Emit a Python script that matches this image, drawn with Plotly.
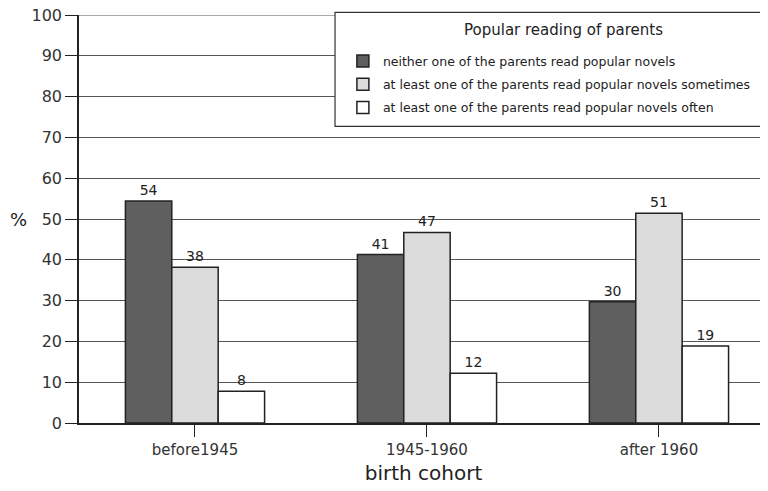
import plotly.graph_objects as go

categories = ["before1945", "1945-1960", "after 1960"]
neither = [54.4, 41.3, 29.7]
sometimes = [38.2, 46.7, 51.4]
often = [7.8, 12.2, 18.9]
series_names = [
    "neither one of the parents read popular novels",
    "at least one of the parents read popular novels sometimes",
    "at least one of the parents read popular novels often",
]
series_colors = ["#5f5f5f", "#dcdcdc", "#ffffff"]
y_ticks = [0, 10, 20, 30, 40, 50, 60, 70, 80, 90, 100]
legend_title = "Popular reading of parents"

FONT = "DejaVu Sans"
fig = go.Figure()
for i, (name, vals, col) in enumerate(zip(series_names, [neither, sometimes, often], series_colors)):
    fig.add_trace(go.Bar(
        x=categories, y=vals, name=name, legendgroup=f"g{i}",
        marker=dict(color=col, line=dict(color="#222222", width=1.5)),
        text=[f"{v:.0f}" for v in vals], textposition="outside",
        textfont=dict(family=FONT, size=14, color="#222222"),
        cliponaxis=False,
    ))

# page body has an 8px margin: figure sized so the plot area fills to the window edge
fig.update_layout(
    width=760, height=483,
    margin=dict(l=71, r=0, t=7, b=68, autoexpand=False),
    paper_bgcolor="white", plot_bgcolor="white",
    barmode="group", bargap=0.4, bargroupgap=0,
    font=dict(family=FONT, color="#222222"),
    showlegend=True,
    legend=dict(
        x=0.383, y=0.923, xanchor="left", yanchor="top",
        bgcolor="rgba(0,0,0,0)", borderwidth=0,
        font=dict(family=FONT, size=12.5, color="#222222"),
        traceorder="grouped", tracegroupgap=4,
    ),
    xaxis=dict(
        range=[-0.5, 2.47], showline=True, linecolor="#222222", linewidth=1.5,
        ticks="outside", ticklen=12, tickcolor="#222222", automargin=False,
        tickfont=dict(family=FONT, size=15, color="#333333"),
        title=dict(text="birth cohort", font=dict(family=FONT, size=20, color="#222222"), standoff=8),
        showgrid=False,
    ),
    yaxis=dict(
        range=[0, 100], tickvals=y_ticks, showline=True, linecolor="#222222", linewidth=1.5,
        ticks="outside", ticklen=12, tickcolor="#222222", automargin=False,
        tickfont=dict(family=FONT, size=16, color="#333333"), ticklabeloverflow="allow",
        showgrid=True, gridcolor="#555555", gridwidth=1,
        zeroline=False,
    ),
)
# legend frame and centred title
fig.add_shape(type="rect", xref="paper", yref="paper", x0=0.3716, x1=1.03, y0=0.727, y1=1.0066,
              fillcolor="white", line=dict(color="#333333", width=1.2), layer="above")
fig.add_shape(type="line", xref="paper", yref="y", x0=0, x1=0.3716, y0=100, y1=100,
              line=dict(color="#555555", width=1), layer="below")
fig.add_annotation(text=legend_title, x=0.7025, xref="paper", y=0.9625, yref="paper",
                   xanchor="center", yanchor="middle",
                   showarrow=False, font=dict(family=FONT, size=15, color="#222222"))
fig.add_annotation(text="%", x=-0.088, xref="paper", y=50, yref="y",
                   xanchor="center", yanchor="middle",
                   showarrow=False, font=dict(family=FONT, size=18, color="#222222"))
fig.write_html("out.html")
